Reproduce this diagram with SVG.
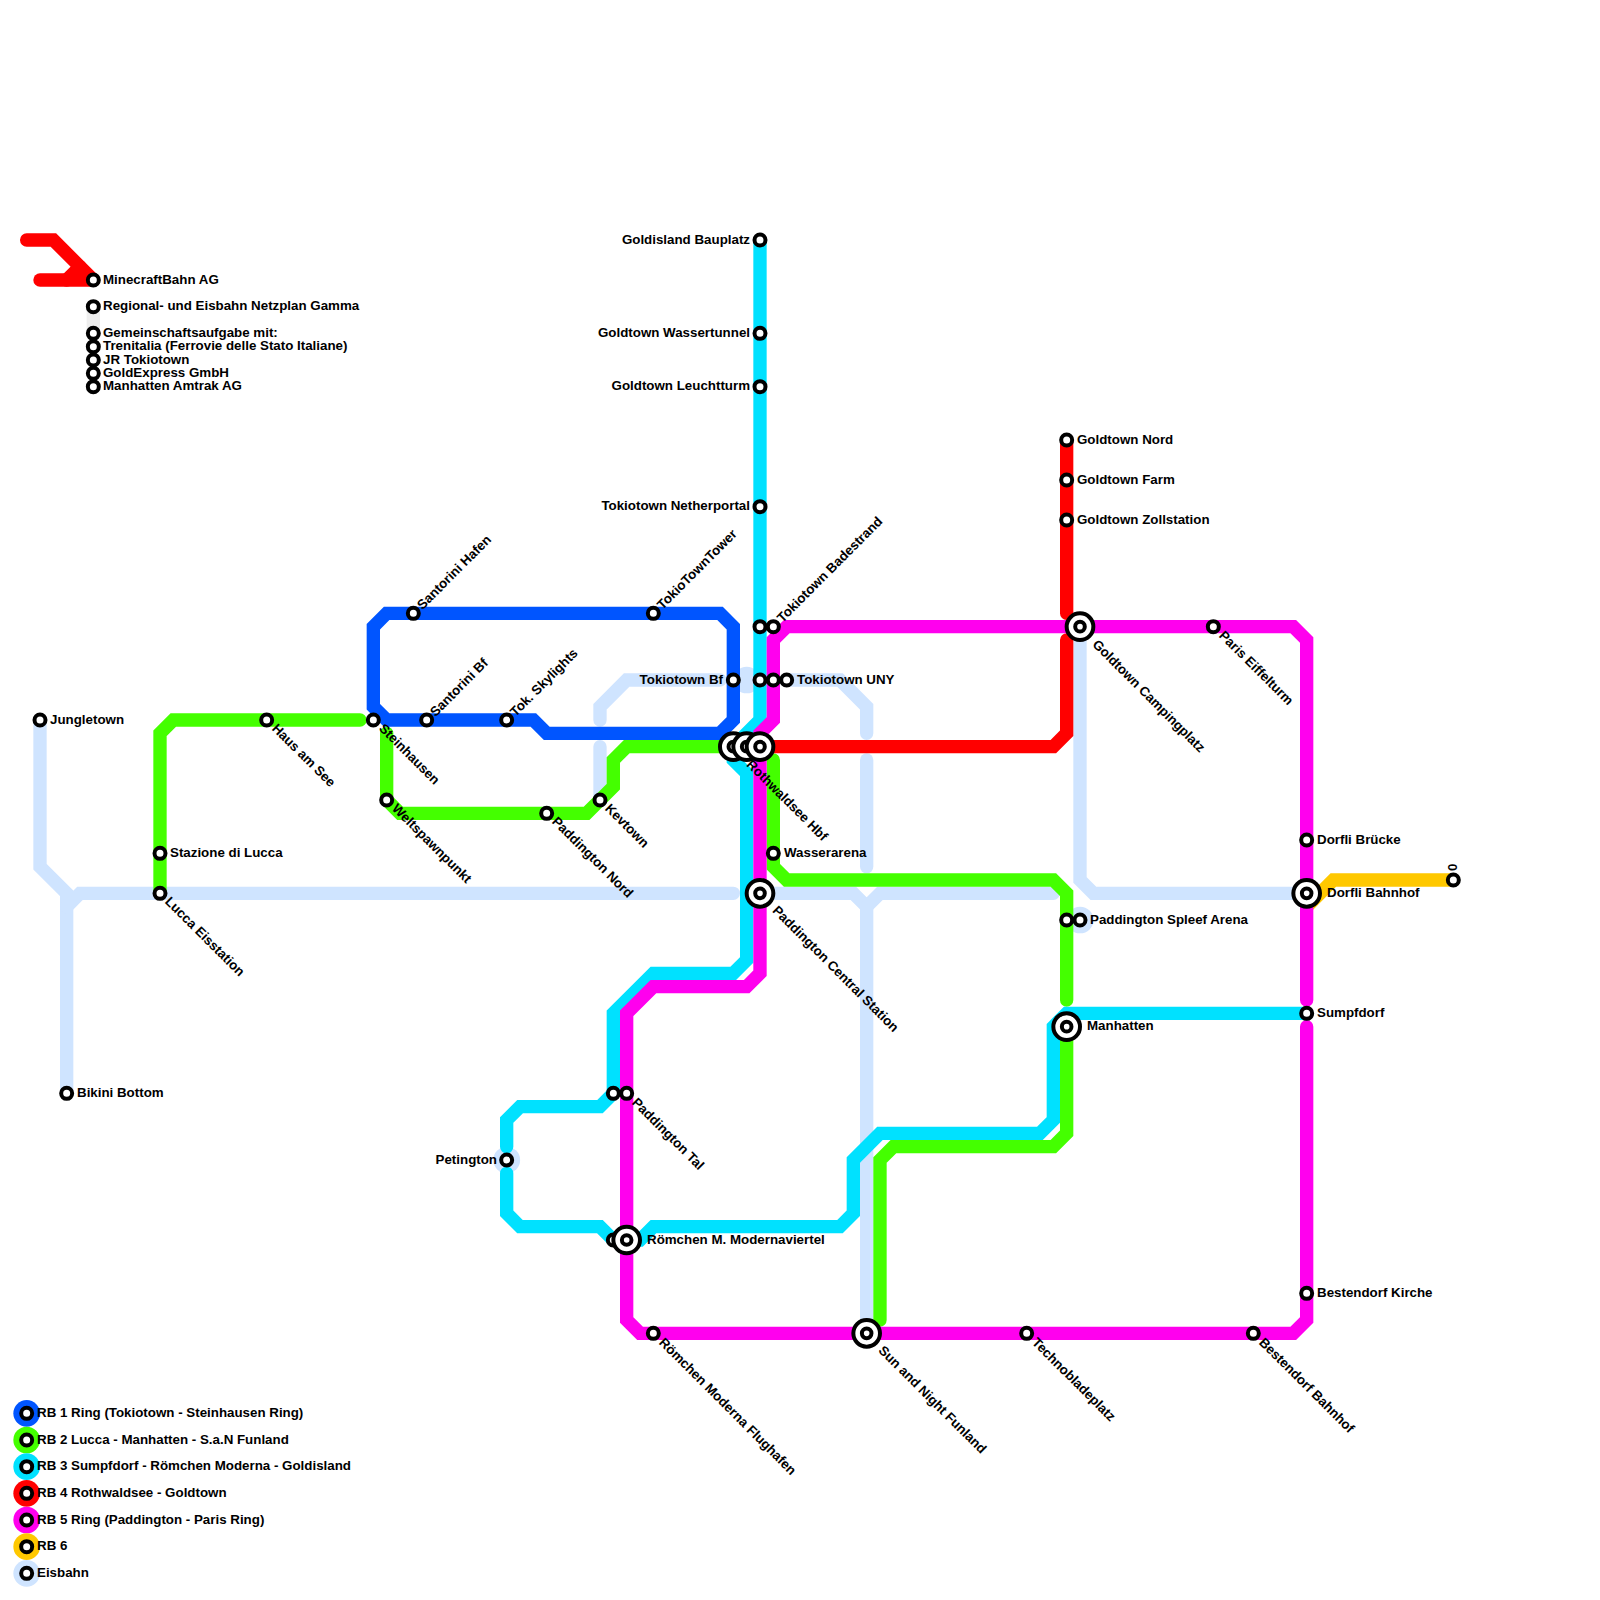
<svg xmlns="http://www.w3.org/2000/svg" width="1600" height="1600" viewBox="0 0 1600 1600">
<style>
.s{fill:#fff;stroke:#000;stroke-width:4}
.r{fill:#fff;stroke:#000;stroke-width:4}
.t{font-family:"Liberation Sans",Arial,sans-serif;font-size:13.33px;font-weight:700;fill:#000;dominant-baseline:central}
.e{text-anchor:end}
</style>
<defs>
<g id="st"><circle class="s" r="5.5"/></g>
<g id="ic"><circle class="r" r="13.33"/><circle r="4.8" class="s"/></g>
</defs>
<rect width="1600" height="1600" fill="#fff"/>
<g id="connectors" transform="scale(13.3333)">
<g stroke-width="1" fill="none" stroke-linecap="round" stroke-linejoin="miter">
<g stroke="#cfe4ff">
<path d="M3 54V65L5 67V82"/><path d="M5 68L6 67H55"/>
<path d="M45 54V53L47 51H54"/><path d="M45 56V60"/>
<path d="M56 51H56.01" stroke-width="2"/>
<path d="M59 51H63L65 53V55"/><path d="M65 57V65"/>
<path d="M57 67H64L65 68L66 67H79"/><path d="M65 68V99"/>
<path d="M81 47V66L82 67H98"/>
<path d="M81 69H81.01" stroke-width="2"/>
<path d="M38 87H38.01" stroke-width="2"/>
</g>
<path stroke="#eeeeee" d="M7 23V25"/>
<g stroke="#44ff00">
<path d="M12 67V55L13 54H27"/><path d="M29 55V60L30 61H44L46 59V57L47 56H55"/>
<path d="M58 57V65L59 66H79L80 67V75"/><path d="M80 77V85L79 86H67L66 87V99"/>
</g>
<path stroke="#0055ff" d="M28 53L29 54H40L41 55H54L55 54V47L54 46H29L28 47Z"/>
<g stroke="#00e1ff">
<path d="M57 18V54L55 56V57L56 58V72L55 73H49L46 76V82L45 83H39L38 84V86"/>
<path d="M38 88V91L39 92H45L46 93H48L49 92H63L64 91V87L66 85H78L79 84V77L80 76H98"/>
</g>
<g stroke="#ff0000">
<path d="M57 56H79L80 55V48"/><path d="M80 33V46"/>
<path d="M2 18H4L7 21"/><path d="M3 21H7"/><path d="M5 21L6 20"/>
</g>
<path stroke="#ffc800" d="M98 68L100 66H109"/>
<path stroke="#ff00ee" d="M98 75V48L97 47H59L58 48V54L57 55V73L56 74H49L47 76V99L48 100H97L98 99V77"/>
</g></g>
<g id="legend">
<circle cx="26.67" cy="1413.33" r="13.33" fill="#0055ff"/><circle cx="26.67" cy="1440" r="13.33" fill="#44ff00"/><circle cx="26.67" cy="1466.67" r="13.33" fill="#00e1ff"/><circle cx="26.67" cy="1493.33" r="13.33" fill="#ff0000"/><circle cx="26.67" cy="1520" r="13.33" fill="#ff00ee"/><circle cx="26.67" cy="1546.67" r="13.33" fill="#ffc800"/><circle cx="26.67" cy="1573.33" r="13.33" fill="#cfe4ff"/>
<use href="#st" x="26.67" y="1413.33"/><use href="#st" x="26.67" y="1440"/><use href="#st" x="26.67" y="1466.67"/><use href="#st" x="26.67" y="1493.33"/><use href="#st" x="26.67" y="1520"/><use href="#st" x="26.67" y="1546.67"/><use href="#st" x="26.67" y="1573.33"/>
<text class="t" x="37" y="1412.3">RB 1 Ring (Tokiotown - Steinhausen Ring)</text>
<text class="t" x="37" y="1439">RB 2 Lucca - Manhatten - S.a.N Funland</text>
<text class="t" x="37" y="1465.7">RB 3 Sumpfdorf - Römchen Moderna - Goldisland</text>
<text class="t" x="37" y="1492.3">RB 4 Rothwaldsee - Goldtown</text>
<text class="t" x="37" y="1519">RB 5 Ring (Paddington - Paris Ring)</text>
<text class="t" x="37" y="1545.7">RB 6</text>
<text class="t" x="37" y="1572.3">Eisbahn</text>
</g>
<g id="logo">
<use href="#st" x="93.33" y="280"/><use href="#st" x="93.33" y="306.67"/><use href="#st" x="93.33" y="333.33"/><use href="#st" x="93.33" y="346.67"/><use href="#st" x="93.33" y="360"/><use href="#st" x="93.33" y="373.33"/><use href="#st" x="93.33" y="386.67"/>
<text class="t" x="103" y="279">MinecraftBahn AG</text>
<text class="t" x="103" y="305.7">Regional- und Eisbahn Netzplan Gamma</text>
<text class="t" x="103" y="332.3">Gemeinschaftsaufgabe mit:</text>
<text class="t" x="103" y="345.7">Trenitalia (Ferrovie delle Stato Italiane)</text>
<text class="t" x="103" y="359">JR Tokiotown</text>
<text class="t" x="103" y="372.3">GoldExpress GmbH</text>
<text class="t" x="103" y="385.7">Manhatten Amtrak AG</text>
</g>
<g id="n-jungletown"><use href="#st" x="40" y="720"/><text class="t" x="50" y="719">Jungletown</text></g>
<g id="n-bikini"><use href="#st" x="66.67" y="1093.33"/><text class="t" x="77" y="1092.3">Bikini Bottom</text></g>
<g id="n-lucca"><use href="#st" x="160" y="853.33"/><text class="t" x="170" y="852.3">Stazione di Lucca</text></g>
<g id="n-luccae"><use href="#st" x="160" y="893.33"/><text class="t" transform="translate(167.5 899) rotate(45)">Lucca Eisstation</text></g>
<g id="n-haus"><use href="#st" x="266.67" y="720"/><text class="t" transform="translate(274.5 726) rotate(45)">Haus am See</text></g>
<g id="n-stein"><use href="#st" x="373.33" y="720"/><text class="t" transform="translate(381.5 726) rotate(45)">Steinhausen</text></g>
<g id="n-welt"><use href="#st" x="386.67" y="800"/><text class="t" transform="translate(394.5 806) rotate(45)">Weltspawnpunkt</text></g>
<g id="n-haf"><use href="#st" x="413.33" y="613.33"/><text class="t" transform="translate(419.2 607) rotate(-45)">Santorini Hafen</text></g>
<g id="n-sbf"><use href="#st" x="426.67" y="720"/><text class="t" transform="translate(432.2 714) rotate(-45)">Santorini Bf</text></g>
<g id="n-sky"><use href="#st" x="506.67" y="720"/><text class="t" transform="translate(512.2 714) rotate(-45)">Tok. Skylights</text></g>
<g id="n-pnord"><use href="#st" x="546.67" y="813.33"/><text class="t" transform="translate(554.5 819) rotate(45)">Paddington Nord</text></g>
<g id="n-kev"><use href="#st" x="600" y="800"/><text class="t" transform="translate(607.5 806) rotate(45)">Kevtown</text></g>
<g id="n-tower"><use href="#st" x="653.33" y="613.33"/><text class="t" transform="translate(659.2 607) rotate(-45)">TokioTownTower</text></g>
<g id="n-tbf"><use href="#st" x="733.33" y="680"/><text class="t e" x="723" y="679">Tokiotown Bf</text></g>
<g id="n-gb"><use href="#st" x="760" y="240"/><text class="t e" x="750" y="239">Goldisland Bauplatz</text></g>
<g id="n-gw"><use href="#st" x="760" y="333.33"/><text class="t e" x="750" y="332.3">Goldtown Wassertunnel</text></g>
<g id="n-gl"><use href="#st" x="760" y="386.67"/><text class="t e" x="750" y="385.7">Goldtown Leuchtturm</text></g>
<g id="n-tn"><use href="#st" x="760" y="506.67"/><text class="t e" x="750" y="505.7">Tokiotown Netherportal</text></g>
<g id="n-tb"><use href="#st" x="760" y="626.67"/><use href="#st" x="773.33" y="626.67"/><text class="t" transform="translate(779.2 620) rotate(-45)">Tokiotown Badestrand</text></g>
<g id="n-uny"><use href="#st" x="760" y="680"/><use href="#st" x="773.33" y="680"/><use href="#st" x="786.67" y="680"/><text class="t" x="797" y="679">Tokiotown UNY</text></g>
<g id="n-roth"><use href="#ic" x="733.33" y="746.67"/><use href="#ic" x="746.67" y="746.67"/><use href="#ic" x="760" y="746.67"/><text class="t" transform="translate(749 762) rotate(45)">Rothwaldsee Hbf</text></g>
<g id="n-wasser"><use href="#st" x="773.33" y="853.33"/><text class="t" x="784" y="852.3">Wasserarena</text></g>
<g id="n-pcs"><use href="#ic" x="760" y="893.33"/><text class="t" transform="translate(775 908) rotate(45)">Paddington Central Station</text></g>
<g id="n-ptal"><use href="#st" x="613.33" y="1093.33"/><use href="#st" x="626.67" y="1093.33"/><text class="t" transform="translate(634.5 1100) rotate(45)">Paddington Tal</text></g>
<g id="n-pet"><use href="#st" x="506.67" y="1160"/><text class="t e" x="497" y="1159">Petington</text></g>
<g id="n-rm"><use href="#st" x="613.33" y="1240"/><use href="#ic" x="626.67" y="1240"/><text class="t" x="647" y="1239">Römchen M. Modernaviertel</text></g>
<g id="n-rf"><use href="#st" x="653.33" y="1333.33"/><text class="t" transform="translate(661.5 1340) rotate(45)">Römchen Moderna Flughafen</text></g>
<g id="n-sun"><use href="#ic" x="866.67" y="1333.33"/><text class="t" transform="translate(881 1348) rotate(45)">Sun and Night Funland</text></g>
<g id="n-tech"><use href="#st" x="1026.67" y="1333.33"/><text class="t" transform="translate(1034.5 1340) rotate(45)">Technobladeplatz</text></g>
<g id="n-bb"><use href="#st" x="1253.33" y="1333.33"/><text class="t" transform="translate(1261.5 1340) rotate(45)">Bestendorf Bahnhof</text></g>
<g id="n-bk"><use href="#st" x="1306.67" y="1293.33"/><text class="t" x="1317" y="1292.3">Bestendorf Kirche</text></g>
<g id="n-sumpf"><use href="#st" x="1306.67" y="1013.33"/><text class="t" x="1317" y="1012.3">Sumpfdorf</text></g>
<g id="n-man"><use href="#ic" x="1066.67" y="1026.67"/><text class="t" x="1087" y="1025.7">Manhatten</text></g>
<g id="n-spleef"><use href="#st" x="1066.67" y="920"/><use href="#st" x="1080" y="920"/><text class="t" x="1090" y="919">Paddington Spleef Arena</text></g>
<g id="n-db"><use href="#ic" x="1306.67" y="893.33"/><text class="t" x="1327" y="892.3">Dorfli Bahnhof</text></g>
<g id="n-dbr"><use href="#st" x="1306.67" y="840"/><text class="t" x="1317" y="839">Dorfli Brücke</text></g>
<g id="n-0"><use href="#st" x="1453.33" y="880"/><text class="t" transform="translate(1452 871) rotate(-90)">0</text></g>
<g id="n-paris"><use href="#st" x="1213.33" y="626.67"/><text class="t" transform="translate(1221.5 633) rotate(45)">Paris Eiffelturm</text></g>
<g id="n-gcp"><use href="#ic" x="1080" y="626.67"/><text class="t" transform="translate(1095 642) rotate(45)">Goldtown Campingplatz</text></g>
<g id="n-gn"><use href="#st" x="1066.67" y="440"/><text class="t" x="1077" y="439">Goldtown Nord</text></g>
<g id="n-gf"><use href="#st" x="1066.67" y="480"/><text class="t" x="1077" y="479">Goldtown Farm</text></g>
<g id="n-gz"><use href="#st" x="1066.67" y="520"/><text class="t" x="1077" y="519">Goldtown Zollstation</text></g>
</svg>
